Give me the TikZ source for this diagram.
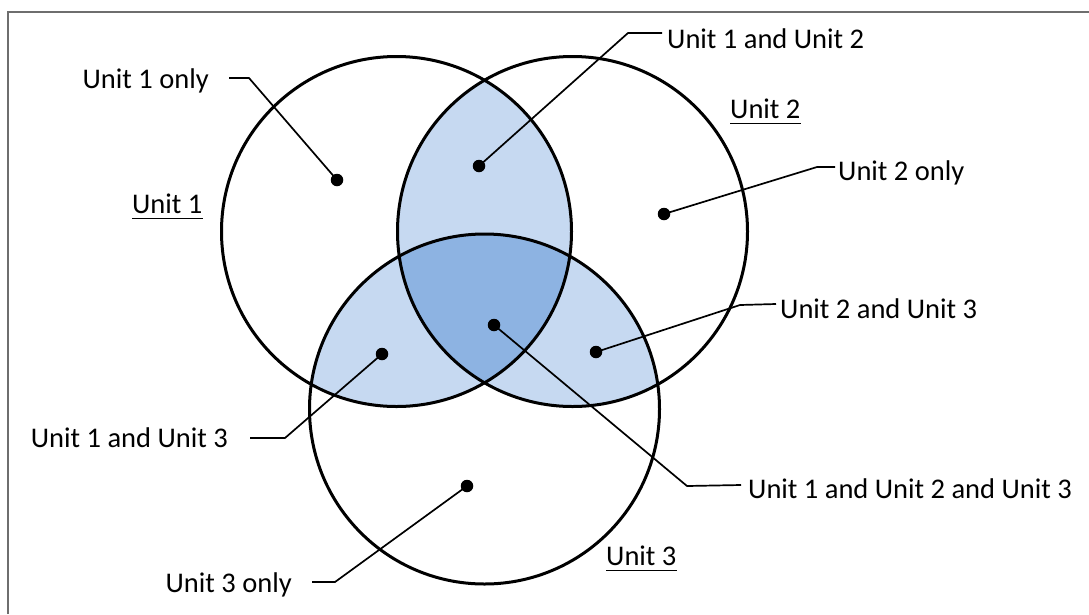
\documentclass[tikz,border=0pt]{standalone}
\usepackage{fontspec}
\setmainfont{Carlito}
\definecolor{pairblue}{HTML}{C6D9F1}
\definecolor{tripleblue}{HTML}{8DB3E2}
\definecolor{framegray}{HTML}{6E6E6E}
\tikzset{
  setline/.style={line width=3pt},
  leader/.style={line width=1.7pt},
  dot/.style={circle,fill=black,inner sep=0pt,minimum size=12.5pt},
  lbl/.style={inner sep=0pt,font=\fontsize{28.5}{34}\selectfont},
  uline/.style={line width=1.8pt}
}
\begin{document}
\begin{tikzpicture}[x=1pt,y=-1pt]
\useasboundingbox (0,0) rectangle (1089,614);
\draw [framegray,line width=1.6pt](8,614) -- (8,12) -- (1089,12);
% centres of the three sets
\coordinate (c1) at (396.5,231.5);
\coordinate (c2) at (572.5,231.5);
\coordinate (c3) at (484.5,409);
\def\rad{175pt}
% shaded overlaps
\begin{scope}
\clip (c1) circle (\rad);
\fill [pairblue] (c2) circle (\rad);
\fill [pairblue] (c3) circle (\rad);
\end{scope}
\begin{scope}
\clip (c2) circle (\rad);
\fill [pairblue] (c3) circle (\rad);
\end{scope}
\begin{scope}
\clip (c1) circle (\rad);
\clip (c2) circle (\rad);
\fill [tripleblue] (c3) circle (\rad);
\end{scope}
\draw [setline] (c1) circle (\rad);
\draw [setline] (c2) circle (\rad);
\draw [setline] (c3) circle (\rad);
% dots
\node [dot] (d1) at (337,180) {};
\node [dot] (d12) at (479,166) {};
\node [dot] (d2) at (664,214) {};
\node [dot] (d13) at (382,354) {};
\node [dot] (d123) at (494,325) {};
\node [dot] (d23) at (596,352) {};
\node [dot] (d3) at (467,486) {};
% labels
\node [lbl,anchor=base east] (t1) at (209,88) {Unit 1 only};
\node [lbl,anchor=base west] (t12) at (667,48) {Unit 1 and Unit 2};
\node [lbl,anchor=base west] (t2) at (838,180) {Unit 2 only};
\node [lbl,anchor=base west] (t23) at (780,318) {Unit 2 and Unit 3};
\node [lbl,anchor=base west] (t123) at (748,498) {Unit 1 and Unit 2 and Unit 3};
\node [lbl,anchor=base east] (t13) at (228,447) {Unit 1 and Unit 3};
\node [lbl,anchor=base east] (t3) at (292,592) {Unit 3 only};
% set names
\node [lbl,anchor=base west] (u1) at (132,213) {Unit 1};
\node [lbl,anchor=base west] (u2) at (730,118) {Unit 2};
\node [lbl,anchor=base west] (u3) at (606,565) {Unit 3};
\draw [uline] ([yshift=-5pt]u1.south west) -- ([yshift=-5pt]u1.south east);
\draw [uline] ([yshift=-5pt]u2.south west) -- ([yshift=-5pt]u2.south east);
\draw [uline] ([yshift=-5pt]u3.south west) -- ([yshift=-5pt]u3.south east);
% leaders
\coordinate (e1) at (229,78);   \coordinate (b1) at (249,78);
\coordinate (e12) at (662,33);  \coordinate (b12) at (628,33);
\coordinate (e2) at (835,167);  \coordinate (b2) at (817,167);
\coordinate (e23) at (776,304); \coordinate (b23) at (740,305);
\coordinate (e123) at (741,485); \coordinate (b123) at (687,486);
\coordinate (e13) at (250,438); \coordinate (b13) at (285,438);
\coordinate (e3) at (312,582);  \coordinate (b3) at (335,582);
\draw [leader] (e1) -- (b1) -- (d1.center);
\draw [leader] (e12) -- (b12) -- (d12.center);
\draw [leader] (e2) -- (b2) -- (d2.center);
\draw [leader] (e23) -- (b23) -- (d23.center);
\draw [leader] (e123) -- (b123) -- (d123.center);
\draw [leader] (e13) -- (b13) -- (d13.center);
\draw [leader] (e3) -- (b3) -- (d3.center);
\end{tikzpicture}
\end{document}
